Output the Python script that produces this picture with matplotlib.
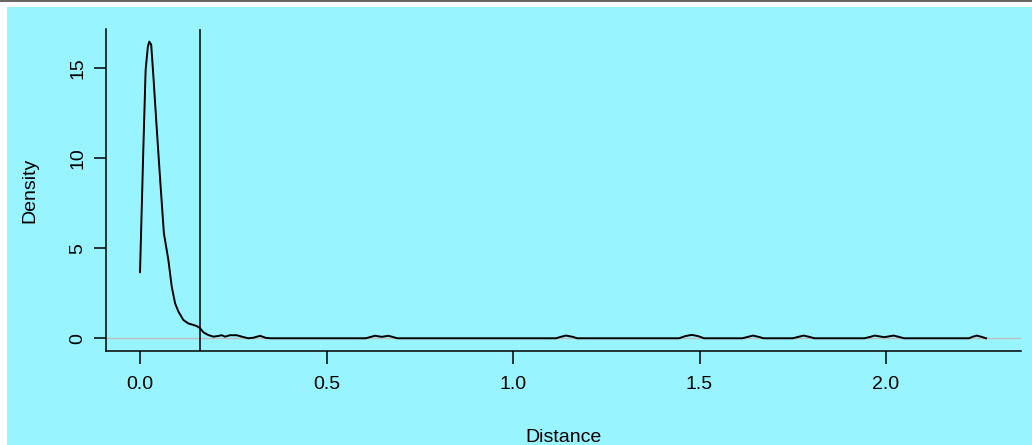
import matplotlib
matplotlib.use("Agg")
import matplotlib.pyplot as plt
from matplotlib.patches import Rectangle

# density curve
dist_x = [0.000, 0.009, 0.015, 0.021, 0.025, 0.030, 0.036, 0.045, 0.054, 0.064,
          0.076, 0.085, 0.094, 0.103, 0.116, 0.129, 0.152, 0.161, 0.170, 0.183,
          0.197, 0.210, 0.219, 0.228, 0.241, 0.259, 0.273, 0.290, 0.304, 0.322,
          0.336, 0.349,
          0.605, 0.630, 0.648, 0.666, 0.690,
          1.115, 1.128, 1.142, 1.160, 1.172,
          1.445, 1.462, 1.479, 1.496, 1.512,
          1.615, 1.630, 1.643, 1.658, 1.672,
          1.750, 1.765, 1.779, 1.794, 1.808,
          1.942, 1.958, 1.970, 1.995, 2.020, 2.034, 2.048,
          2.222, 2.233, 2.243, 2.256, 2.268]
dens_y = [3.67, 10.6, 14.9, 16.2, 16.48, 16.3, 14.5, 11.6, 8.8, 5.83,
          4.35, 2.87, 1.94, 1.48, 1.02, 0.83, 0.68, 0.56, 0.33, 0.18,
          0.09, 0.13, 0.17, 0.09, 0.17, 0.17, 0.09, 0.0, 0.03, 0.14,
          0.03, 0.0,
          0.0, 0.14, 0.08, 0.14, 0.0,
          0.0, 0.08, 0.15, 0.08, 0.0,
          0.0, 0.12, 0.19, 0.12, 0.0,
          0.0, 0.08, 0.15, 0.08, 0.0,
          0.0, 0.08, 0.15, 0.08, 0.0,
          0.0, 0.08, 0.15, 0.06, 0.15, 0.08, 0.0,
          0.0, 0.09, 0.15, 0.08, 0.0]
cutoff = 0.161

x_ticks = [0.0, 0.5, 1.0, 1.5, 2.0]
x_labels = ["0.0", "0.5", "1.0", "1.5", "2.0"]
y_ticks = [0, 5, 10, 15]
y_labels = ["0", "5", "10", "15"]

W, H = 1032, 445
bg = "#98F5FF"

plt.rcParams['font.family'] = ['Liberation Sans', 'DejaVu Sans']
fig = plt.figure(figsize=(W / 100, H / 100), dpi=100, facecolor="white")

# cyan panel and the grey strip at the top (screenshot frame)
fig.add_artist(Rectangle((7 / W, 0), 1 - 7 / W, (H - 7) / H, transform=fig.transFigure,
                         facecolor=bg, edgecolor="none", zorder=-2))
fig.add_artist(Rectangle((0, (H - 2) / H), 1, 2 / H, transform=fig.transFigure,
                         facecolor="#666666", edgecolor="none", zorder=-1))

left, right, top, bottom = 106, 1020.7, 29, 350.7
ax = fig.add_axes([left / W, (H - bottom) / H, (right - left) / W, (bottom - top) / H])
ax.set_facecolor("none")

ax.axhline(0, color="#BEBEBE", lw=1.0, zorder=1)
ax.plot(dist_x, dens_y, color="black", lw=1.4, zorder=2)
ax.axvline(cutoff, color="black", lw=1.1, zorder=3)

ax.set_xlim(-0.0912, 2.361)
ax.set_ylim(-0.69, 17.18)

for s in ["top", "right"]:
    ax.spines[s].set_visible(False)
for s in ["left", "bottom"]:
    ax.spines[s].set_linewidth(1.1)
    ax.spines[s].set_color("black")

ax.set_xticks(x_ticks)
ax.set_xticklabels(x_labels)
ax.set_yticks(y_ticks)
ax.set_yticklabels(y_labels, rotation=90, va="center")
ax.tick_params(axis="x", length=9, width=1.1, pad=9.5, labelsize=14)
ax.tick_params(axis="y", length=9, width=1.1, pad=5, labelsize=14)

fig.text(30 / W, 1 - 190 / H, "Density", rotation=90, ha="center", va="center", fontsize=14)
fig.text((left + right) / 2 / W, 2.5 / H, "Distance", ha="center", va="baseline", fontsize=14)

fig.savefig("out.png", dpi=100, facecolor="white")
